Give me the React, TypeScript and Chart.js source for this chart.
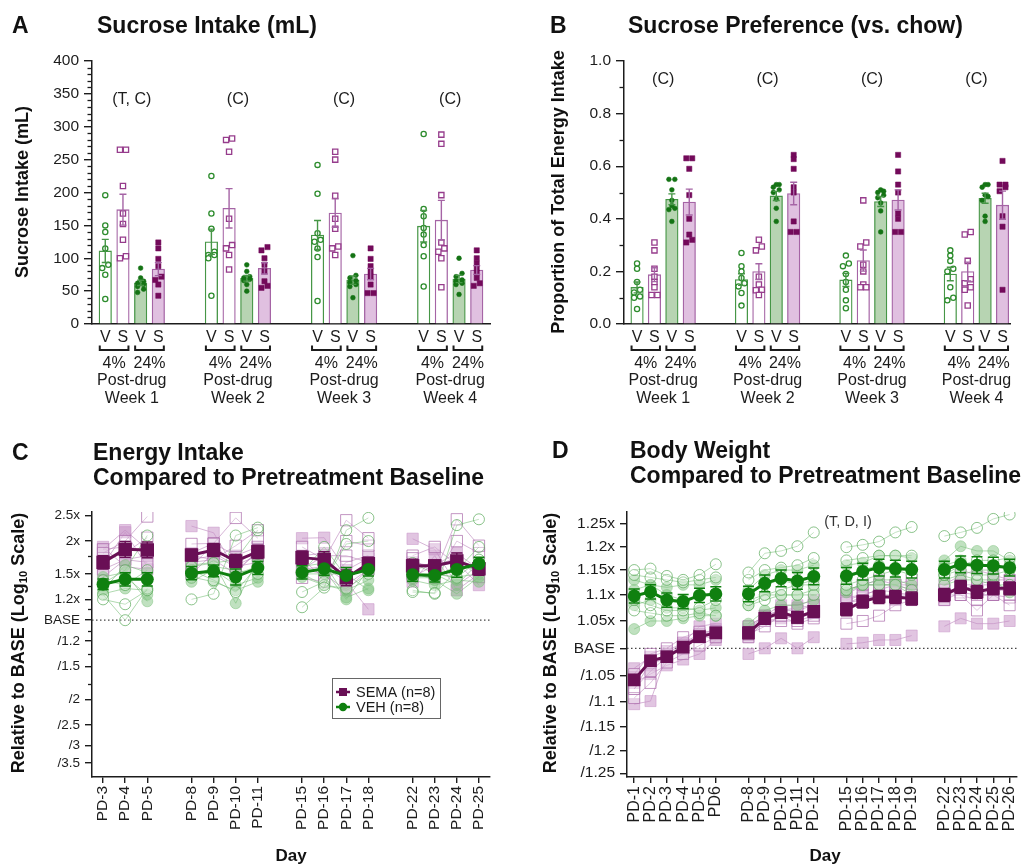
import React, { useEffect, useRef } from 'react';
import { Chart, registerables } from 'chart.js';

Chart.register(...registerables);

const FONT = '"Liberation Sans", Arial, Helvetica, sans-serif';
const INK = '#1c1c1c';

// ---------------- Panel A : sucrose intake (mL) ----------------
const weekNames = ['Week 1', 'Week 2', 'Week 3', 'Week 4'];
const drugLetters = ['V', 'S', 'V', 'S'];
const concNames = ['4%', '24%'];

const intakeVeh4 = [
  [196, 150, 140, 115, 90, 85, 75, 38],
  [225, 168, 145, 110, 105, 105, 100, 43],
  [242, 198, 138, 128, 125, 115, 102, 35],
  [289, 175, 164, 146, 136, 120, 103, 57],
];
const intakeSema4 = [
  [265, 265, 210, 168, 152, 128, 103, 100],
  [282, 280, 262, 160, 120, 115, 105, 83],
  [262, 250, 195, 160, 145, 118, 115, 105],
  [288, 274, 196, 124, 115, 110, 100, 56],
];
const intakeVeh24 = [
  [85, 70, 65, 62, 60, 57, 53, 48],
  [90, 80, 72, 70, 68, 66, 60, 50],
  [104, 74, 70, 66, 63, 60, 57, 40],
  [100, 77, 72, 67, 65, 62, 60, 45],
];
const intakeSema24 = [
  [124, 115, 99, 88, 72, 67, 60, 43],
  [117, 112, 100, 90, 80, 65, 58, 55],
  [115, 99, 88, 80, 72, 60, 47, 47],
  [112, 100, 92, 85, 78, 70, 62, 58],
];
const intakeNotes = ['(T, C)', '(C)', '(C)', '(C)'];

// ---------------- Panel B : sucrose preference ----------------
const prefVeh4 = [
  [0.23, 0.21, 0.16, 0.13, 0.12, 0.105, 0.1, 0.057],
  [0.27, 0.22, 0.2, 0.175, 0.155, 0.143, 0.118, 0.07],
  [0.26, 0.23, 0.22, 0.19, 0.16, 0.13, 0.09, 0.06],
  [0.28, 0.26, 0.24, 0.21, 0.2, 0.14, 0.1, 0.09],
];
const prefSema4 = [
  [0.31, 0.28, 0.21, 0.18, 0.16, 0.14, 0.11, 0.11],
  [0.32, 0.295, 0.28, 0.18, 0.15, 0.13, 0.128, 0.11],
  [0.47, 0.31, 0.295, 0.225, 0.2, 0.15, 0.14, 0.14],
  [0.35, 0.34, 0.24, 0.17, 0.155, 0.14, 0.13, 0.07],
];
const prefVeh24 = [
  [0.55, 0.55, 0.51, 0.47, 0.45, 0.44, 0.435, 0.39],
  [0.53, 0.53, 0.52, 0.51, 0.5, 0.475, 0.44, 0.39],
  [0.51, 0.505, 0.5, 0.49, 0.48, 0.46, 0.43, 0.35],
  [0.53, 0.53, 0.52, 0.49, 0.485, 0.47, 0.41, 0.39],
];
const prefSema24 = [
  [0.63, 0.63, 0.59, 0.49, 0.4, 0.34, 0.32, 0.31],
  [0.643, 0.627, 0.59, 0.52, 0.5, 0.39, 0.35, 0.35],
  [0.643, 0.58, 0.53, 0.5, 0.42, 0.4, 0.35, 0.35],
  [0.62, 0.53, 0.53, 0.52, 0.505, 0.41, 0.37, 0.13],
];
const prefNotes = ['(C)', '(C)', '(C)', '(C)'];

// ---------------- Panel C : energy intake vs baseline ----------------
const energyDays = ['PD-3', 'PD-4', 'PD-5', 'PD-8', 'PD-9', 'PD-10', 'PD-11', 'PD-15', 'PD-16', 'PD-17', 'PD-18', 'PD-22', 'PD-23', 'PD-24', 'PD-25'];
const energyWeekSizes = [3, 4, 4, 4];
const energyTickValues = [1 / 3.5, 1 / 3, 1 / 2.5, 1 / 2, 1 / 1.5, 1 / 1.2, 1, 1.2, 1.5, 2, 2.5];
const energyTickLabels = ['/3.5', '/3', '/2.5', '/2', '/1.5', '/1.2', 'BASE', '1.2x', '1.5x', '2x', '2.5x'];
const energyMinorTicks = [1.75, 1.35, 1.1, 1 / 1.1, 1 / 1.35, 1 / 1.75];

const energySemaMean = [1.66, 1.86, 1.85, 1.77, 1.85, 1.68, 1.82, 1.73, 1.7, 1.45, 1.64, 1.61, 1.61, 1.68, 1.57];
const energyVehMean = [1.37, 1.43, 1.43, 1.51, 1.54, 1.46, 1.58, 1.52, 1.57, 1.48, 1.56, 1.49, 1.48, 1.56, 1.64];
const energySemaSem = [0.025, 0.03, 0.03, 0.022, 0.025, 0.025, 0.025, 0.025, 0.03, 0.03, 0.025, 0.025, 0.02, 0.03, 0.025];
const energyVehSem = [0.02, 0.025, 0.025, 0.025, 0.022, 0.03, 0.025, 0.025, 0.025, 0.03, 0.025, 0.025, 0.025, 0.03, 0.025];

const energyVehOpen = [
  [1.2, 1.15, 1.3, 1.2, 1.26, 2.1, 2.25, 1.12, 1.33, 2.2, 2.45, 1.28, 1.27, 2.3, 2.42],
  [1.25, 1.0, 1.32, 1.6, 1.65, 1.7, 2.2, 1.28, 1.4, 1.95, 2.0, 1.3, 1.26, 1.55, 1.9],
  [1.38, 1.55, 2.1, 1.55, 1.42, 1.28, 1.62, 1.5, 1.36, 1.32, 1.5, 1.45, 1.45, 1.62, 1.55],
  [1.42, 1.36, 1.55, 1.45, 1.6, 1.55, 1.5, 1.52, 1.9, 1.46, 1.62, 1.65, 1.5, 1.45, 1.7],
];
const energyVehFilled = [
  [1.3, 1.62, 1.52, 1.62, 1.66, 1.16, 1.7, 1.6, 1.65, 1.22, 1.32, 1.52, 1.42, 1.26, 1.46],
  [1.35, 1.46, 1.25, 1.46, 1.4, 1.3, 1.4, 1.46, 1.36, 1.3, 1.42, 1.42, 1.36, 1.42, 1.4],
  [1.46, 1.52, 1.18, 1.5, 1.52, 1.5, 1.6, 1.55, 1.56, 1.2, 1.56, 1.5, 1.5, 1.36, 1.66],
  [1.26, 1.32, 1.3, 1.4, 1.56, 1.36, 1.45, 1.5, 1.5, 1.5, 1.3, 1.46, 1.5, 1.46, 1.5],
];
const energySemaOpen = [
  [1.8, 2.0, 2.48, 1.95, 1.96, 2.45, 2.05, 1.9, 1.7, 2.4, 2.05, 1.72, 1.5, 2.42, 1.92],
  [1.72, 1.8, 2.06, 1.76, 1.7, 1.92, 2.2, 1.7, 1.45, 2.0, 1.92, 1.5, 1.45, 2.0, 1.8],
  [1.86, 1.9, 1.8, 1.6, 1.95, 1.6, 1.9, 1.56, 1.76, 1.76, 1.66, 1.76, 1.9, 1.62, 1.56],
  [1.56, 1.7, 1.66, 1.5, 1.8, 1.62, 1.76, 1.45, 1.4, 1.66, 1.76, 1.46, 1.62, 1.72, 1.46],
];
const energySemaFilled = [
  [1.86, 2.2, 1.86, 2.28, 2.15, 1.55, 1.8, 2.05, 2.06, 1.55, 1.72, 2.04, 1.86, 1.36, 1.55],
  [1.62, 2.16, 1.6, 1.8, 1.96, 1.76, 1.9, 1.76, 1.8, 1.36, 1.56, 1.66, 1.6, 1.66, 1.36],
  [1.46, 1.7, 1.76, 1.66, 1.7, 1.5, 1.86, 1.56, 1.6, 1.4, 1.1, 1.56, 1.62, 1.8, 1.56],
  [1.9, 1.6, 1.56, 1.7, 1.76, 1.6, 1.66, 1.56, 1.5, 1.3, 1.56, 1.4, 1.76, 1.3, 1.5],
];

// ---------------- Panel D : body weight vs baseline ----------------
const weightDays = ['PD-1', 'PD-2', 'PD-3', 'PD-4', 'PD-5', 'PD6', 'PD-8', 'PD-9', 'PD-10', 'PD-11', 'PD-12', 'PD-15', 'PD-16', 'PD-17', 'PD-18', 'PD-19', 'PD-22', 'PD-23', 'PD-24', 'PD-25', 'PD-26'];
const weightWeekSizes = [6, 5, 5, 5];
const weightTickValues = [1 / 1.25, 1 / 1.2, 1 / 1.15, 1 / 1.1, 1 / 1.05, 1, 1.05, 1.1, 1.15, 1.2, 1.25];
const weightTickLabels = ['/1.25', '/1.2', '/1.15', '/1.1', '/1.05', 'BASE', '1.05x', '1.1x', '1.15x', '1.2x', '1.25x'];

const weightVehMean = [1.098, 1.106, 1.09, 1.087, 1.099, 1.102, 1.102, 1.123, 1.133, 1.128, 1.137, 1.138, 1.147, 1.155, 1.153, 1.151, 1.151, 1.162, 1.16, 1.159, 1.155];
const weightSemaMean = [0.945, 0.978, 0.985, 1.002, 1.021, 1.028, 1.028, 1.055, 1.066, 1.057, 1.068, 1.072, 1.087, 1.096, 1.096, 1.093, 1.1, 1.116, 1.106, 1.113, 1.113];
const weightVehSem = [0.0055, 0.0055, 0.0055, 0.0055, 0.0055, 0.0055, 0.006, 0.0065, 0.0065, 0.0065, 0.0065, 0.0065, 0.0065, 0.0065, 0.0065, 0.0065, 0.0065, 0.0065, 0.0065, 0.0065, 0.0065];
const weightSemaSem = [0.004, 0.004, 0.004, 0.004, 0.004, 0.004, 0.0045, 0.0045, 0.0045, 0.0045, 0.0045, 0.005, 0.005, 0.005, 0.005, 0.005, 0.005, 0.005, 0.005, 0.005, 0.005];

const weightVehOpen = [
  [1.15, 1.153, 1.138, 1.13, 1.14, 1.162, 1.145, 1.185, 1.19, 1.2, 1.23, 1.198, 1.203, 1.21, 1.23, 1.242, 1.222, 1.23, 1.24, 1.26, 1.27],
  [1.14, 1.135, 1.13, 1.125, 1.13, 1.135, 1.13, 1.15, 1.155, 1.16, 1.175, 1.17, 1.175, 1.18, 1.18, 1.18, 1.14, 1.16, 1.17, 1.17, 1.175],
  [1.09, 1.08, 1.07, 1.07, 1.075, 1.09, 1.09, 1.1, 1.11, 1.12, 1.12, 1.12, 1.13, 1.14, 1.15, 1.14, 1.14, 1.15, 1.14, 1.14, 1.15],
  [1.07, 1.065, 1.06, 1.06, 1.065, 1.06, 1.08, 1.09, 1.1, 1.1, 1.1, 1.11, 1.12, 1.12, 1.12, 1.11, 1.12, 1.13, 1.13, 1.12, 1.12],
];
const weightVehFilled = [
  [1.13, 1.12, 1.115, 1.12, 1.12, 1.13, 1.11, 1.14, 1.15, 1.15, 1.16, 1.16, 1.165, 1.18, 1.18, 1.175, 1.17, 1.2, 1.19, 1.19, 1.17],
  [1.11, 1.12, 1.1, 1.09, 1.1, 1.1, 1.1, 1.12, 1.13, 1.12, 1.13, 1.13, 1.15, 1.16, 1.15, 1.15, 1.15, 1.16, 1.16, 1.16, 1.15],
  [1.08, 1.09, 1.075, 1.075, 1.07, 1.075, 1.08, 1.1, 1.1, 1.1, 1.11, 1.11, 1.12, 1.13, 1.13, 1.12, 1.16, 1.17, 1.15, 1.15, 1.16],
  [1.035, 1.05, 1.05, 1.055, 1.06, 1.06, 1.045, 1.07, 1.08, 1.08, 1.09, 1.105, 1.12, 1.12, 1.12, 1.1, 1.13, 1.14, 1.13, 1.13, 1.105],
];
const weightSemaOpen = [
  [0.955, 0.99, 1.0, 1.02, 1.03, 1.03, 1.04, 1.06, 1.07, 1.07, 1.08, 1.11, 1.12, 1.12, 1.12, 1.13, 1.1, 1.12, 1.12, 1.13, 1.13],
  [0.93, 0.96, 0.985, 1.0, 1.02, 1.03, 1.025, 1.04, 1.06, 1.055, 1.065, 1.095, 1.1, 1.11, 1.105, 1.1, 1.11, 1.1, 1.09, 1.12, 1.1],
  [0.915, 0.94, 0.975, 0.99, 1.005, 1.02, 1.02, 1.05, 1.05, 1.05, 1.06, 1.045, 1.05, 1.06, 1.08, 1.09, 1.1, 1.1, 1.07, 1.1, 1.08],
  [0.93, 0.975, 0.985, 1.005, 1.025, 1.03, 1.03, 1.055, 1.06, 1.045, 1.055, 1.085, 1.095, 1.1, 1.1, 1.1, 1.09, 1.105, 1.1, 1.1, 1.095],
];
const weightSemaFilled = [
  [0.965, 0.985, 0.995, 1.01, 1.025, 1.035, 1.035, 1.06, 1.08, 1.08, 1.09, 1.09, 1.1, 1.11, 1.12, 1.11, 1.11, 1.11, 1.12, 1.12, 1.11],
  [0.95, 0.97, 0.985, 1.01, 1.04, 1.045, 1.04, 1.06, 1.07, 1.075, 1.08, 1.1, 1.12, 1.13, 1.12, 1.12, 1.12, 1.14, 1.15, 1.14, 1.13],
  [0.94, 0.955, 0.97, 0.98, 0.99, 1.015, 0.99, 1.0, 1.018, 1.0, 1.02, 1.008, 1.01, 1.015, 1.015, 1.023, 1.04, 1.055, 1.045, 1.045, 1.05],
  [0.905, 0.91, 0.99, 1.01, 1.02, 1.02, 1.02, 1.05, 1.055, 1.06, 1.065, 1.085, 1.09, 1.1, 1.09, 1.095, 1.09, 1.12, 1.1, 1.1, 1.12],
];

// ---------------- colours ----------------
const GREEN_LINE = 'rgb(70,150,70)';
const PURPLE_LINE = 'rgb(165,100,165)';
const GREEN_FILL = 'rgb(183,212,178)';
const PURPLE_FILL = 'rgb(224,192,224)';
const GREEN_PT = 'rgb(45,140,45)';
const PURPLE_PT = 'rgb(150,60,140)';
const GREEN_DOT = 'rgb(20,115,20)';
const PURPLE_DOT = 'rgb(115,10,90)';

const VEH_IND = { line: 'rgba(110,185,110,0.55)', fill: 'rgba(130,195,130,0.5)', open: 'rgba(90,170,90,0.7)' };
const SEMA_IND = { line: 'rgba(180,120,180,0.55)', fill: 'rgba(200,150,200,0.55)', open: 'rgba(170,105,170,0.7)' };
const VEH_MEAN = 'rgb(15,128,15)';
const SEMA_MEAN = 'rgb(105,15,85)';

// ---------------- helpers ----------------
const mean = (a: number[]) => a.reduce((s, v) => s + v, 0) / a.length;
const sem = (a: number[]) => {
  const m = mean(a);
  const v = a.reduce((s, x) => s + (x - m) * (x - m), 0) / (a.length - 1);
  return Math.sqrt(v / a.length);
};
// place near-equal values side by side
function pairOffsets(vals: number[], gap: number): number[] {
  const idx = vals.map((_, i) => i).sort((a, b) => vals[a] - vals[b]);
  const off = vals.map(() => 0);
  for (let k = 0; k < idx.length - 1; k++) {
    const i = idx[k];
    const j = idx[k + 1];
    if (Math.abs(vals[i] - vals[j]) < gap) {
      off[i] = -0.17;
      off[j] = 0.17;
      k++;
    }
  }
  return off;
}

type Area = { left: number; top: number; right: number; bottom: number };

function buildBarChart(canvas: HTMLCanvasElement, cfg: any) {
  const { W, H, area, conds, yMax, yStep, minor, decimals, xMax, notes, noteValue, gap } = cfg as {
    W: number; H: number; area: Area; conds: number[][][]; yMax: number; yStep: number; minor: number;
    decimals: number; xMax: number; notes: string[]; noteValue: number; gap: number;
  };
  const barBg = ['#ffffff', '#ffffff', GREEN_FILL, PURPLE_FILL];
  const barBorder = [GREEN_LINE, PURPLE_LINE, GREEN_LINE, PURPLE_LINE];
  const ptColor = [GREEN_PT, PURPLE_PT, GREEN_DOT, PURPLE_DOT];
  const bars: any[] = [];
  const bg: string[] = [];
  const bd: string[] = [];
  const errs: any[] = [];
  for (let g = 0; g < 4; g++) {
    for (let b = 0; b < 4; b++) {
      const vals = conds[b][g];
      const x = g * 6 + b;
      bars.push({ x, y: mean(vals) });
      bg.push(barBg[b]);
      bd.push(barBorder[b]);
      errs.push({ x, m: mean(vals), s: sem(vals), c: barBorder[b] });
    }
  }
  const scatter = conds.map((cond, b) => {
    const pts: any[] = [];
    cond.forEach((vals, g) => {
      const off = pairOffsets(vals, gap);
      vals.forEach((v, i) => pts.push({ x: g * 6 + b + off[i], y: v }));
    });
    const filled = b >= 2;
    const square = b % 2 === 1;
    return {
      type: 'scatter',
      data: pts,
      pointStyle: square ? 'rect' : 'circle',
      pointRadius: square ? 3.7 : filled ? 2.4 : 2.6,
      backgroundColor: filled ? ptColor[b] : '#ffffff',
      borderColor: ptColor[b],
      borderWidth: filled ? 0.5 : 1.3,
      order: 1,
    };
  });

  const decor = {
    id: 'decor',
    afterDatasetsDraw(chart: any) {
      const ctx = chart.ctx;
      const xs = chart.scales.x;
      const ys = chart.scales.y;
      ctx.save();
      ctx.lineWidth = 1.4;
      errs.forEach((e) => {
        const x = xs.getPixelForValue(e.x);
        const y1 = ys.getPixelForValue(e.m + e.s);
        const y0 = ys.getPixelForValue(e.m - e.s);
        ctx.strokeStyle = e.c;
        ctx.beginPath();
        ctx.moveTo(x, y0);
        ctx.lineTo(x, y1);
        ctx.moveTo(x - 3.5, y1);
        ctx.lineTo(x + 3.5, y1);
        ctx.moveTo(x - 3.5, y0);
        ctx.lineTo(x + 3.5, y0);
        ctx.stroke();
      });
      ctx.restore();
    },
    afterDraw(chart: any) {
      const ctx = chart.ctx;
      const xs = chart.scales.x;
      const ys = chart.scales.y;
      const ca = chart.chartArea;
      ctx.save();
      // minor ticks
      ctx.strokeStyle = INK;
      ctx.lineWidth = 1.3;
      for (let v = minor; v < yMax; v += minor) {
        const r = v / yStep;
        if (Math.abs(r - Math.round(r)) < 1e-6) continue;
        const y = Math.round(ys.getPixelForValue(v)) + 0.5;
        ctx.beginPath();
        ctx.moveTo(ca.left - 4.5, y);
        ctx.lineTo(ca.left, y);
        ctx.stroke();
      }
      ctx.fillStyle = INK;
      ctx.textAlign = 'center';
      ctx.textBaseline = 'middle';
      ctx.font = `16px ${FONT}`;
      for (let g = 0; g < 4; g++) {
        for (let b = 0; b < 4; b++) ctx.fillText(drugLetters[b], xs.getPixelForValue(g * 6 + b), ca.bottom + 13.5);
        for (let p = 0; p < 2; p++) {
          const xa = xs.getPixelForValue(g * 6 + 2 * p) - 5.5;
          const xb = xs.getPixelForValue(g * 6 + 2 * p + 1) + 5.5;
          ctx.lineWidth = 2;
          ctx.beginPath();
          ctx.moveTo(xa, ca.bottom + 21.5);
          ctx.lineTo(xa, ca.bottom + 26);
          ctx.lineTo(xb, ca.bottom + 26);
          ctx.lineTo(xb, ca.bottom + 21.5);
          ctx.stroke();
          ctx.fillText(concNames[p], (xa + xb) / 2, ca.bottom + 39.5);
        }
        const cx = xs.getPixelForValue(g * 6 + 1.5);
        ctx.fillText('Post-drug', cx, ca.bottom + 57);
        ctx.fillText(weekNames[g], cx, ca.bottom + 75);
        ctx.fillText(notes[g], cx, ys.getPixelForValue(noteValue));
      }
      ctx.restore();
    },
  };

  return new Chart(canvas, {
    type: 'bar',
    data: {
      datasets: [
        ...scatter,
        {
          type: 'bar',
          data: bars,
          backgroundColor: bg,
          borderColor: bd,
          borderWidth: 1.3,
          barThickness: 12.5,
          borderSkipped: 'start',
          order: 5,
        },
      ] as any,
    },
    options: {
      responsive: false,
      animation: false,
      devicePixelRatio: 1,
      layout: { padding: { left: 0, top: area.top, right: W - area.right, bottom: 0 } },
      plugins: { legend: { display: false }, tooltip: { enabled: false } },
      scales: {
        x: {
          type: 'linear',
          min: -0.75,
          max: xMax,
          offset: false,
          bounds: 'data',
          ticks: { display: false },
          grid: { display: false, offset: false },
          border: { display: true, color: INK, width: 1.5 },
          afterFit: (s: any) => { s.height = H - area.bottom; },
        },
        y: {
          type: 'linear',
          min: 0,
          max: yMax,
          bounds: 'data',
          ticks: {
            stepSize: yStep,
            color: INK,
            padding: 5,
            font: { family: FONT, size: 15.5 },
            callback: (v: any) => Number(v).toFixed(decimals),
          },
          grid: { drawOnChartArea: false, drawTicks: true, tickLength: 8, color: INK, lineWidth: 1.4 },
          border: { display: true, color: INK, width: 1.5 },
          afterFit: (s: any) => { s.width = area.left; },
        },
      },
    } as any,
    plugins: [decor],
  });
}

function buildLineChart(canvas: HTMLCanvasElement, cfg: any) {
  const {
    W, H, area, days, weekSizes, vehOpen, vehFilled, semaOpen, semaFilled, vehMean, semaMean, vehSem, semaSem,
    yMin, yMax, tickValues, tickLabels, minorTicks, xFont, yFont, indR, indSq, meanR, meanSq, xMin, xMax, legend, note,
  } = cfg;
  const pos: number[] = [];
  let k = 0;
  weekSizes.forEach((n: number, w: number) => {
    for (let i = 0; i < n; i++) { pos.push(k + w); k++; }
  });
  const series = (vals: number[]) => {
    const pts: any[] = [];
    let idx = 0;
    weekSizes.forEach((n: number, w: number) => {
      if (w > 0) pts.push({ x: pos[idx] - 1, y: null });
      for (let i = 0; i < n; i++) { pts.push({ x: pos[idx], y: vals[idx] }); idx++; }
    });
    return pts;
  };
  const indiv = (vals: number[], col: any, filled: boolean, square: boolean) => ({
    type: 'line',
    data: series(vals),
    borderColor: col.line,
    borderWidth: 1,
    pointStyle: square ? 'rect' : 'circle',
    pointRadius: square ? indSq : indR,
    pointBackgroundColor: filled ? col.fill : 'rgba(255,255,255,0.25)',
    pointBorderColor: filled ? col.fill : col.open,
    pointBorderWidth: 1,
    spanGaps: false,
    tension: 0,
    order: 3,
  });
  const datasets: any[] = [
    ...vehOpen.map((v: number[]) => indiv(v, VEH_IND, false, false)),
    ...vehFilled.map((v: number[]) => indiv(v, VEH_IND, true, false)),
    ...semaOpen.map((v: number[]) => indiv(v, SEMA_IND, false, true)),
    ...semaFilled.map((v: number[]) => indiv(v, SEMA_IND, true, true)),
    {
      type: 'line', data: series(vehMean), borderColor: VEH_MEAN, borderWidth: 3, pointStyle: 'circle',
      pointRadius: meanR, pointBackgroundColor: VEH_MEAN, pointBorderColor: VEH_MEAN, pointBorderWidth: 0,
      spanGaps: false, tension: 0, order: 1, isMean: true,
    },
    {
      type: 'line', data: series(semaMean), borderColor: SEMA_MEAN, borderWidth: 3, pointStyle: 'rect',
      pointRadius: meanSq, pointBackgroundColor: SEMA_MEAN, pointBorderColor: SEMA_MEAN, pointBorderWidth: 0,
      spanGaps: false, tension: 0, order: 1, isMean: true,
    },
  ];

  let errDrawn = false;
  const decor = {
    id: 'decor',
    beforeDatasetsDraw(chart: any) {
      errDrawn = false;
      const ctx = chart.ctx;
      const ca = chart.chartArea;
      const y = chart.scales.y.getPixelForValue(1);
      ctx.save();
      ctx.strokeStyle = '#444';
      ctx.lineWidth = 1.2;
      ctx.setLineDash([1.5, 2.5]);
      ctx.beginPath();
      ctx.moveTo(ca.left, y);
      ctx.lineTo(ca.right, y);
      ctx.stroke();
      ctx.restore();
    },
    beforeDatasetDraw(chart: any, args: any) {
      if (errDrawn || !chart.data.datasets[args.index].isMean) return;
      errDrawn = true;
      const ctx = chart.ctx;
      const xs = chart.scales.x;
      const ys = chart.scales.y;
      ctx.save();
      ctx.lineWidth = 1.5;
      const draw = (m: number[], s: number[], c: string) => {
        ctx.strokeStyle = c;
        m.forEach((v, i) => {
          const x = xs.getPixelForValue(pos[i]);
          const y1 = ys.getPixelForValue(v * Math.pow(10, s[i]));
          const y0 = ys.getPixelForValue(v / Math.pow(10, s[i]));
          ctx.beginPath();
          ctx.moveTo(x, y0);
          ctx.lineTo(x, y1);
          ctx.moveTo(x - 5.5, y1);
          ctx.lineTo(x + 5.5, y1);
          ctx.moveTo(x - 5.5, y0);
          ctx.lineTo(x + 5.5, y0);
          ctx.stroke();
        });
      };
      draw(semaMean, semaSem, SEMA_MEAN);
      draw(vehMean, vehSem, VEH_MEAN);
      ctx.restore();
    },
    afterDraw(chart: any) {
      const ctx = chart.ctx;
      const ys = chart.scales.y;
      const ca = chart.chartArea;
      ctx.save();
      ctx.strokeStyle = INK;
      ctx.lineWidth = 1.3;
      minorTicks.forEach((v: number) => {
        const y = Math.round(ys.getPixelForValue(v)) + 0.5;
        ctx.beginPath();
        ctx.moveTo(ca.left - 4, y);
        ctx.lineTo(ca.left, y);
        ctx.stroke();
      });
      if (legend) {
        const { x, y, w, h } = legend;
        ctx.strokeStyle = '#666';
        ctx.lineWidth = 1;
        ctx.strokeRect(x + 0.5, y + 0.5, w, h);
        ctx.font = `14.5px ${FONT}`;
        ctx.textAlign = 'left';
        ctx.textBaseline = 'middle';
        ctx.fillStyle = INK;
        const rows = [
          { label: 'SEMA (n=8)', c: SEMA_MEAN, sq: true, yy: y + 14 },
          { label: 'VEH (n=8)', c: VEH_MEAN, sq: false, yy: y + 29 },
        ];
        rows.forEach((r) => {
          ctx.strokeStyle = r.c;
          ctx.fillStyle = r.c;
          ctx.lineWidth = 2.5;
          ctx.beginPath();
          ctx.moveTo(x + 4, r.yy);
          ctx.lineTo(x + 18, r.yy);
          ctx.stroke();
          ctx.beginPath();
          if (r.sq) ctx.rect(x + 7, r.yy - 4, 8, 8);
          else ctx.arc(x + 11, r.yy, 4.2, 0, Math.PI * 2);
          ctx.fill();
          ctx.fillStyle = INK;
          ctx.fillText(r.label, x + 24, r.yy + 0.5);
        });
      }
      if (note) {
        ctx.font = `14.5px ${FONT}`;
        ctx.textAlign = 'center';
        ctx.textBaseline = 'middle';
        ctx.fillStyle = '#333';
        ctx.fillText(note.text, note.x, note.y);
      }
      ctx.restore();
    },
  };

  return new Chart(canvas, {
    type: 'line',
    data: { datasets },
    options: {
      responsive: false,
      animation: false,
      devicePixelRatio: 1,
      layout: { padding: { left: 0, top: area.top, right: W - area.right, bottom: 0 } },
      plugins: { legend: { display: false }, tooltip: { enabled: false } },
      scales: {
        x: {
          type: 'linear',
          min: xMin,
          max: xMax,
          offset: false,
          bounds: 'data',
          afterBuildTicks: (s: any) => { s.ticks = pos.map((v) => ({ value: v })); },
          ticks: {
            autoSkip: false,
            minRotation: 90,
            maxRotation: 90,
            padding: 3,
            color: INK,
            font: { family: FONT, size: xFont },
            callback: (v: any) => {
              const i = pos.indexOf(Number(v));
              return i >= 0 ? days[i] : '';
            },
          },
          grid: { drawOnChartArea: false, drawTicks: true, tickLength: 6, color: INK, lineWidth: 1.4 },
          border: { display: true, color: INK, width: 1.5 },
          afterFit: (s: any) => { s.height = H - area.bottom; },
        },
        y: {
          type: 'logarithmic',
          min: yMin,
          max: yMax,
          bounds: 'data',
          afterBuildTicks: (s: any) => { s.ticks = tickValues.map((v: number) => ({ value: v })); },
          ticks: {
            autoSkip: false,
            padding: 5,
            color: INK,
            font: { family: FONT, size: yFont },
            callback: (v: any) => {
              const i = tickValues.findIndex((t: number) => Math.abs(t - Number(v)) < 1e-9);
              return i >= 0 ? tickLabels[i] : '';
            },
          },
          grid: { drawOnChartArea: false, drawTicks: true, tickLength: 7, color: INK, lineWidth: 1.4 },
          border: { display: true, color: INK, width: 1.5 },
          afterFit: (s: any) => { s.width = area.left; },
        },
      },
    } as any,
    plugins: [decor],
  });
}

// ---------------- text helpers ----------------
function Txt(props: { x: number; base: number; size: number; bold?: boolean; center?: boolean; children: any }) {
  const { x, base, size, bold, center, children } = props;
  return (
    <div
      style={{
        position: 'absolute',
        left: x,
        top: base - 0.8465 * size,
        fontSize: size,
        lineHeight: 1,
        fontWeight: bold ? 700 : 400,
        whiteSpace: 'nowrap',
        transform: center ? 'translateX(-50%)' : undefined,
        fontFamily: FONT,
        color: '#111',
      }}
    >
      {children}
    </div>
  );
}

function VTxt(props: { cx: number; cy: number; size: number; children: any }) {
  const { cx, cy, size, children } = props;
  return (
    <div
      style={{
        position: 'absolute',
        left: cx,
        top: cy,
        fontSize: size,
        lineHeight: 1,
        fontWeight: 700,
        whiteSpace: 'nowrap',
        transform: 'translate(-50%, -50%) rotate(-90deg)',
        fontFamily: FONT,
        color: '#111',
      }}
    >
      {children}
    </div>
  );
}

const Sub10 = () => (
  <span style={{ fontSize: '0.62em', position: 'relative', top: '0.28em' }}>10</span>
);

export default function App() {
  const aRef = useRef<HTMLCanvasElement>(null);
  const bRef = useRef<HTMLCanvasElement>(null);
  const cRef = useRef<HTMLCanvasElement>(null);
  const dRef = useRef<HTMLCanvasElement>(null);

  useEffect(() => {
    const charts = [
      buildBarChart(aRef.current!, {
        W: 516, H: 430, area: { left: 92, top: 61, right: 490, bottom: 324 },
        conds: [intakeVeh4, intakeSema4, intakeVeh24, intakeSema24],
        yMax: 400, yStep: 50, minor: 10, decimals: 0, xMax: 21.75,
        notes: intakeNotes, noteValue: 342, gap: 6,
      }),
      buildBarChart(bRef.current!, {
        W: 516, H: 430, area: { left: 108, top: 61, right: 494, bottom: 324 },
        conds: [prefVeh4, prefSema4, prefVeh24, prefSema24],
        yMax: 1.0, yStep: 0.2, minor: 0.1, decimals: 1, xMax: 21.43,
        notes: prefNotes, noteValue: 0.928, gap: 0.016,
      }),
      buildLineChart(cRef.current!, {
        W: 516, H: 437, area: { left: 92, top: 82, right: 490, bottom: 347 },
        days: energyDays, weekSizes: energyWeekSizes,
        vehOpen: energyVehOpen, vehFilled: energyVehFilled, semaOpen: energySemaOpen, semaFilled: energySemaFilled,
        vehMean: energyVehMean, semaMean: energySemaMean, vehSem: energyVehSem, semaSem: energySemaSem,
        yMin: 1 / 3.95, yMax: 2.58, tickValues: energyTickValues, tickLabels: energyTickLabels,
        minorTicks: energyMinorTicks, xFont: 15.5, yFont: 13.5,
        indR: 5.5, indSq: 8, meanR: 6.5, meanSq: 9.5, xMin: -0.5, xMax: 17.5,
        legend: { x: 332, y: 248, w: 108, h: 40 }, note: null,
      }),
      buildLineChart(dRef.current!, {
        W: 516, H: 437, area: { left: 111, top: 82, right: 507, bottom: 347 },
        days: weightDays, weekSizes: weightWeekSizes,
        vehOpen: weightVehOpen, vehFilled: weightVehFilled, semaOpen: weightSemaOpen, semaFilled: weightSemaFilled,
        vehMean: weightVehMean, semaMean: weightSemaMean, vehSem: weightVehSem, semaSem: weightSemaSem,
        yMin: 1 / 1.2585, yMax: 1.2757, tickValues: weightTickValues, tickLabels: weightTickLabels,
        minorTicks: [], xFont: 16, yFont: 15.5,
        indR: 5.5, indSq: 7.8, meanR: 6.5, meanSq: 9, xMin: -0.44, xMax: 23.44,
        legend: null, note: { text: '(T, D, I)', x: 332, y: 92 },
      }),
    ];
    return () => charts.forEach((c) => c.destroy());
  }, []);

  const cv = (left: number, top: number, w: number, h: number) => ({
    position: 'absolute' as const, left, top, width: w, height: h, display: 'block',
  });

  return (
    <div style={{ position: 'absolute', left: 0, top: 0, width: 1032, height: 867, background: '#fff', overflow: 'hidden' }}>
      <canvas ref={aRef} width={516} height={430} style={cv(0, 0, 516, 430)} />
      <canvas ref={bRef} width={516} height={430} style={cv(516, 0, 516, 430)} />
      <canvas ref={cRef} width={516} height={437} style={cv(0, 430, 516, 437)} />
      <canvas ref={dRef} width={516} height={437} style={cv(516, 430, 516, 437)} />

      <Txt x={12} base={33} size={23} bold>A</Txt>
      <Txt x={97} base={33} size={23} bold>Sucrose Intake (mL)</Txt>
      <Txt x={550} base={33} size={23} bold>B</Txt>
      <Txt x={628} base={33} size={23} bold>Sucrose Preference (vs. chow)</Txt>
      <Txt x={12} base={460} size={23} bold>C</Txt>
      <Txt x={93} base={460} size={23} bold>Energy Intake</Txt>
      <Txt x={93} base={485} size={23} bold>Compared to Pretreatment Baseline</Txt>
      <Txt x={552} base={458} size={23} bold>D</Txt>
      <Txt x={630} base={458} size={23} bold>Body Weight</Txt>
      <Txt x={630} base={483} size={23} bold>Compared to Pretreatment Baseline</Txt>

      <VTxt cx={21.5} cy={192} size={18}>Sucrose Intake (mL)</VTxt>
      <VTxt cx={557.5} cy={191.5} size={18}>Proportion of Total Energy Intake</VTxt>
      <VTxt cx={17.5} cy={642.5} size={18}>Relative to BASE (Log<Sub10 /> Scale)</VTxt>
      <VTxt cx={549.5} cy={642.5} size={18}>Relative to BASE (Log<Sub10 /> Scale)</VTxt>

      <Txt x={291} base={861} size={17} bold center>Day</Txt>
      <Txt x={825} base={861} size={17} bold center>Day</Txt>
    </div>
  );
}
